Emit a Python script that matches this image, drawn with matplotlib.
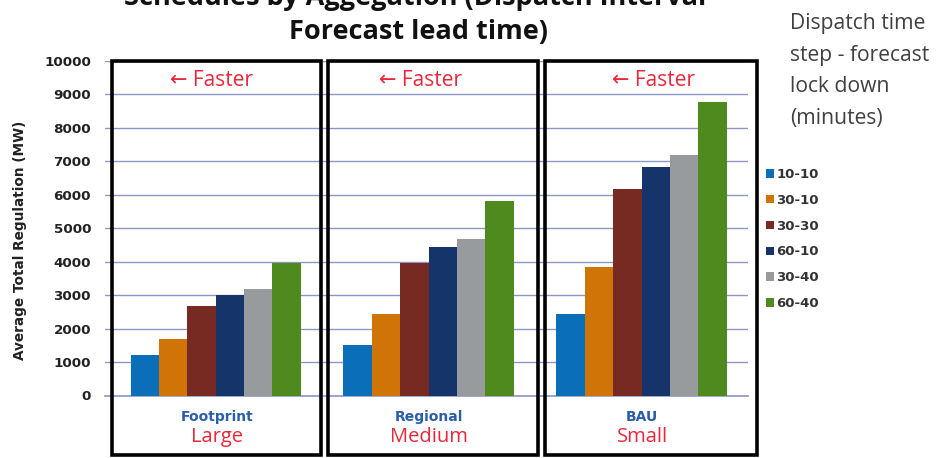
import matplotlib
matplotlib.use("Agg")
import matplotlib.pyplot as plt
from matplotlib.patches import Rectangle
import numpy as np

# ---- data ----
categories = ["Footprint", "Regional", "BAU"]
sizes = ["Large", "Medium", "Small"]
series_names = ["10-10", "30-10", "30-30", "60-10", "30-40", "60-40"]
v_10_10 = [1200, 1520, 2430]
v_30_10 = [1700, 2440, 3850]
v_30_30 = [2680, 3970, 6170]
v_60_10 = [3000, 4450, 6820]
v_30_40 = [3180, 4670, 7200]
v_60_40 = [3950, 5820, 8770]
series_values = [v_10_10, v_30_10, v_30_30, v_60_10, v_30_40, v_60_40]
y_ticks = [0, 1000, 2000, 3000, 4000, 5000, 6000, 7000, 8000, 9000, 10000]

colors = ["#0a6fb8", "#d07408", "#772a22", "#15356a", "#979b9e", "#4f8a1f"]

W, H = 945, 458
fig = plt.figure(figsize=(W / 100, H / 100), dpi=100)
fig.patch.set_facecolor("white")

def fx(px):
    return px / W

def fy(py):
    return (H - py) / H

ax_l, ax_r, ax_t, ax_b = 105, 748, 61, 395.5
ax = fig.add_axes([fx(ax_l), fy(ax_b), fx(ax_r - ax_l), (ax_b - ax_t) / H])

n = len(series_names)
group_w = 0.8
bw = group_w / n
x = np.arange(len(categories))
handles = []
for i, (name, vals) in enumerate(zip(series_names, series_values)):
    h = ax.bar(x - group_w / 2 + bw * (i + 0.5), vals, width=bw, color=colors[i],
               label=name, zorder=3)
    handles.append(h)

ax.set_xlim(-0.52, 2.5)
ax.set_ylim(0, 10000)
ax.set_yticks(y_ticks)
ax.set_yticklabels([str(t) for t in y_ticks], fontsize=9.7, fontweight="bold",
                   color="#222222", family="DejaVu Sans")
ax.set_xticks([])
ax.tick_params(axis="y", length=0, pad=10)
ax.grid(axis="y", color="#8c97c8", linewidth=1.0, zorder=0)
for s in ["top", "right", "left"]:
    ax.spines[s].set_visible(False)
ax.spines["bottom"].set_color("#8c97c8")
ax.spines["bottom"].set_linewidth(1.2)
ax.set_ylabel("Average Total Regulation (MW)", fontsize=9.8, fontweight="bold",
              family="DejaVu Sans", color="#222222")
ax.yaxis.set_label_coords(-0.121, 0.465)

# boxes around groups
boxes = [(112, 321), (328, 538), (545, 757)]
for (l, r) in boxes:
    rect = Rectangle((fx(l), fy(455)), fx(r - l), (455 - 61) / H,
                     transform=fig.transFigure, fill=False, edgecolor="black",
                     linewidth=2.6, zorder=5)
    fig.patches.append(rect)

# "Faster" labels
for cx in [212, 421, 654]:
    fig.text(fx(cx), fy(80), "\u2190 Faster", color="#e8283a", fontsize=15,
             family=["Open Sans", "DejaVu Sans"], ha="center", va="center")

# category labels
for i, (c, s) in enumerate(zip(categories, sizes)):
    cx = [217, 429, 642][i]
    fig.text(fx(cx), fy(417), c, color="#2a5fa8", fontsize=10, fontweight="bold",
             family="DejaVu Sans", ha="center", va="center")
    fig.text(fx(cx), fy(437), s, color="#e8283a", fontsize=14.5,
             family=["Open Sans", "DejaVu Sans"], ha="center", va="center")

# title
fig.text(fx(423), fy(5), "Schedules by Aggegation (Dispatch Interval -",
         fontsize=19.5, fontweight="bold", family=["Open Sans", "DejaVu Sans"],
         ha="center", va="baseline", color="#111111")
fig.text(fx(419), fy(39), "Forecast lead time)",
         fontsize=19.5, fontweight="bold", family=["Open Sans", "DejaVu Sans"],
         ha="center", va="baseline", color="#111111")

# legend title
fig.text(fx(790), fy(13), "Dispatch time\nstep - forecast\nlock down\n(minutes)",
         fontsize=15.2, family=["Open Sans", "DejaVu Sans"], color="#404040",
         ha="left", va="top", linespacing=1.66)

leg = fig.legend(handles=handles, labels=series_names, loc="upper left",
                 bbox_to_anchor=(fx(766), fy(168)), frameon=False,
                 prop={"size": 9.5, "weight": "bold", "family": "DejaVu Sans"},
                 handlelength=0.6, handleheight=0.6, handletextpad=0.2,
                 labelspacing=0.97, borderpad=0, borderaxespad=0)
for t in leg.get_texts():
    t.set_color("#333333")

fig.savefig("out.png", dpi=100)
